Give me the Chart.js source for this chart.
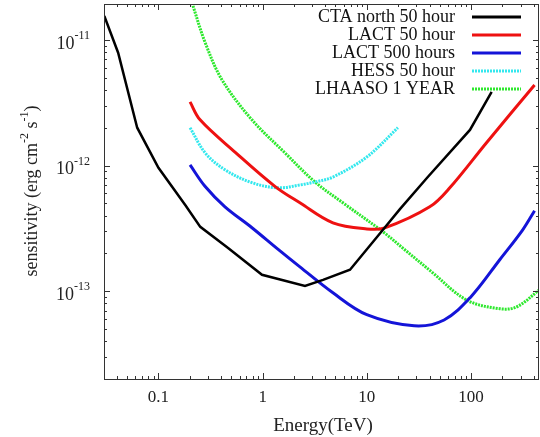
<!DOCTYPE html>
<html>
<head>
<meta charset="utf-8">
<script src="https://cdn.jsdelivr.net/npm/chart.js@4/dist/chart.umd.min.js"></script>
<style>
  html, body { margin: 0; padding: 0; background: #fff; }
  #wrap { width: 540px; height: 437px; }
</style>
</head>
<body>
<div id="wrap"><canvas id="sens"></canvas></div>
<script>
// Energy in TeV, sensitivity in erg cm^-2 s^-1
const ctaE = [0.0302, 0.041, 0.0625, 0.1, 0.18, 0.252, 0.466, 0.986, 2.55, 3.8, 6.9, 14.3, 20.8, 38.5, 97.8, 158];
const ctaS = [1.55e-11, 7.9e-12, 2.0e-12, 9.6e-13, 4.87e-13, 3.25e-13, 2.21e-13, 1.35e-13, 1.1e-13, 1.23e-13, 1.48e-13, 3.08e-13, 4.5e-13, 8.1e-13, 1.92e-12, 3.86e-12];

const lact50E = [0.201, 0.251, 0.543, 1.32, 2.28, 4.73, 10, 14.9, 40.2, 62.6, 141, 408];
const lact50S = [3.21e-12, 2.31e-12, 1.28e-12, 6.8e-13, 5.05e-13, 3.5e-13, 3.13e-13, 3.19e-13, 4.69e-13, 6.65e-13, 1.52e-12, 4.38e-12];

const lact500E = [0.201, 0.281, 0.435, 0.79, 1.41, 2.28, 4.73, 10, 28.5, 55.2, 99.6, 189, 314, 408];
const lact500S = [1.01e-12, 6.8e-13, 4.69e-13, 3.2e-13, 2.15e-13, 1.56e-13, 9.7e-14, 6.5e-14, 5.3e-14, 5.9e-14, 9.0e-14, 1.78e-13, 3.08e-13, 4.37e-13];

const hessE = [0.201, 0.281, 0.435, 0.79, 1.41, 2.28, 3.18, 4.73, 10, 19.9];
const hessS = [2.0e-12, 1.26e-12, 9.25e-13, 7.3e-13, 6.65e-13, 7.0e-13, 7.4e-13, 8.1e-13, 1.17e-12, 2.0e-12];

const lhaasoE = [0.21, 0.281, 0.408, 0.79, 1.64, 3.18, 5.9, 14.3, 22.2, 43, 91, 189, 275, 457];
const lhaasoS = [1.97e-11, 9.5e-12, 4.8e-12, 2.31e-12, 1.26e-12, 7.4e-13, 5.05e-13, 2.97e-13, 2.2e-13, 1.4e-13, 8.5e-14, 7.25e-14, 7.5e-14, 1.03e-13];

const xLabels = [0.1, 1, 10, 100];
const yDecades = [-13, -12, -11];

const pts = (xs, ys) => xs.map((x, i) => ({ x: x, y: ys[i] }));
const SERIF = '"Liberation Serif", "DejaVu Serif", serif';

const series = [
    { label: 'CTA north 50 hour', data: pts(ctaE, ctaS), color: '#000000', dash: [], width: 2.5, tension: 0 },
    { label: 'LACT 50 hour', data: pts(lact50E, lact50S), color: '#ee1111', dash: [], width: 3, tension: 0.35 },
    { label: 'LACT 500 hours', data: pts(lact500E, lact500S), color: '#1414d8', dash: [], width: 3, tension: 0.35 },
    { label: 'HESS 50 hour', data: pts(hessE, hessS), color: '#33e8ee', dash: [2, 1], width: 3, tension: 0.35 },
    { label: 'LHAASO 1 YEAR', data: pts(lhaasoE, lhaasoS), color: '#2ee82e', dash: [2, 1], width: 3, tension: 0.35 }
];

// draws box, inward ticks, tick labels, axis titles and the right-aligned legend
const axesPlugin = {
    id: 'gnuplotAxes',
    afterDraw(chart) {
        const ctx = chart.ctx;
        const a = chart.chartArea;
        const xs = chart.scales.x, ys = chart.scales.y;
        ctx.save();

        ctx.strokeStyle = '#333';
        ctx.lineWidth = 1;
        ctx.strokeRect(a.left + 0.5, a.top + 0.5, a.right - a.left - 1, a.bottom - a.top);

        // x ticks
        ctx.beginPath();
        for (let e = -2; e <= 2; e++) {
            for (let m = 1; m <= 9; m++) {
                const v = m * Math.pow(10, e);
                if (v < xs.min || v > xs.max) continue;
                const px = Math.round(xs.getPixelForValue(v)) + 0.5;
                const len = m === 1 ? 6 : 3;
                ctx.moveTo(px, a.bottom); ctx.lineTo(px, a.bottom - len);
                ctx.moveTo(px, a.top); ctx.lineTo(px, a.top + len);
            }
        }
        // y ticks
        for (let e = -14; e <= -11; e++) {
            for (let m = 1; m <= 9; m++) {
                const v = m * Math.pow(10, e);
                if (v < ys.min || v > ys.max) continue;
                const py = Math.round(ys.getPixelForValue(v)) + 0.5;
                const len = m === 1 ? 6 : 3;
                ctx.moveTo(a.left, py); ctx.lineTo(a.left + len, py);
                ctx.moveTo(a.right, py); ctx.lineTo(a.right - len, py);
            }
        }
        ctx.stroke();

        ctx.fillStyle = '#222';
        ctx.font = '17px ' + SERIF;
        ctx.textAlign = 'center';
        ctx.textBaseline = 'middle';
        xLabels.forEach(v => {
            ctx.fillText(String(v), xs.getPixelForValue(v), 398);
        });

        // y labels 10^-n
        yDecades.forEach(e => {
            const py = ys.getPixelForValue(Math.pow(10, e));
            const sup = '-' + Math.abs(e);
            ctx.font = '12px ' + SERIF;
            const sw = ctx.measureText(sup).width;
            ctx.textAlign = 'left';
            ctx.fillText(sup, 90 - sw, py - 4);
            ctx.font = '18px ' + SERIF;
            ctx.textAlign = 'right';
            ctx.fillText('10', 90 - sw, py + 4);
        });

        // x title
        ctx.font = '19px ' + SERIF;
        ctx.textAlign = 'center';
        ctx.fillText('Energy(TeV)', 323, 426);

        // y title, rotated, with superscripts
        const parts = [
            ['sensitivity (erg cm', 18, 0],
            ['-2', 12, -7],
            [' s', 18, 0],
            ['-1', 12, -7],
            [')', 18, 0]
        ];
        ctx.translate(32, 191);
        ctx.rotate(-Math.PI / 2);
        let total = 0;
        parts.forEach(p => { ctx.font = p[1] + 'px ' + SERIF; total += ctx.measureText(p[0]).width; });
        let cx = -total / 2;
        ctx.textAlign = 'left';
        parts.forEach(p => {
            ctx.font = p[1] + 'px ' + SERIF;
            ctx.fillText(p[0], cx, p[2]);
            cx += ctx.measureText(p[0]).width;
        });
        ctx.setTransform(1, 0, 0, 1, 0, 0);

        // legend
        ctx.font = '18px ' + SERIF;
        ctx.textAlign = 'right';
        const rows = [17, 35, 53, 71, 89];
        series.forEach((s, i) => {
            ctx.fillStyle = '#111';
            ctx.fillText(s.label, 455, rows[i]);
            ctx.strokeStyle = s.color;
            ctx.lineWidth = 3;
            ctx.setLineDash(s.dash);
            ctx.beginPath();
            ctx.moveTo(472, rows[i]); ctx.lineTo(521, rows[i]);
            ctx.stroke();
        });
        ctx.setLineDash([]);

        ctx.restore();
    }
};

new Chart(document.getElementById('sens'), {
    type: 'line',
    data: {
        datasets: series.map(s => ({
            label: s.label,
            data: s.data,
            borderColor: s.color,
            backgroundColor: s.color,
            borderWidth: s.width,
            borderDash: s.dash,
            tension: s.tension,
            pointRadius: 0,
            fill: false
        }))
    },
    options: {
        responsive: true,
        maintainAspectRatio: false,
        animation: false,
        layout: { padding: { top: 4, right: 1, left: 0, bottom: 0 } },
        scales: {
            x: {
                type: 'logarithmic',
                min: 0.03,
                max: 450,
                bounds: 'data',
                ticks: { display: false },
                grid: { display: false },
                border: { display: false },
                afterFit: (scale) => { scale.height = 58; }
            },
            y: {
                type: 'logarithmic',
                min: 2e-14,
                max: 1.93e-11,
                bounds: 'data',
                ticks: { display: false },
                grid: { display: false },
                border: { display: false },
                afterFit: (scale) => { scale.width = 104; }
            }
        },
        plugins: {
            legend: { display: false },
            tooltip: { enabled: false }
        }
    },
    plugins: [axesPlugin]
});
</script>
</body>
</html>
